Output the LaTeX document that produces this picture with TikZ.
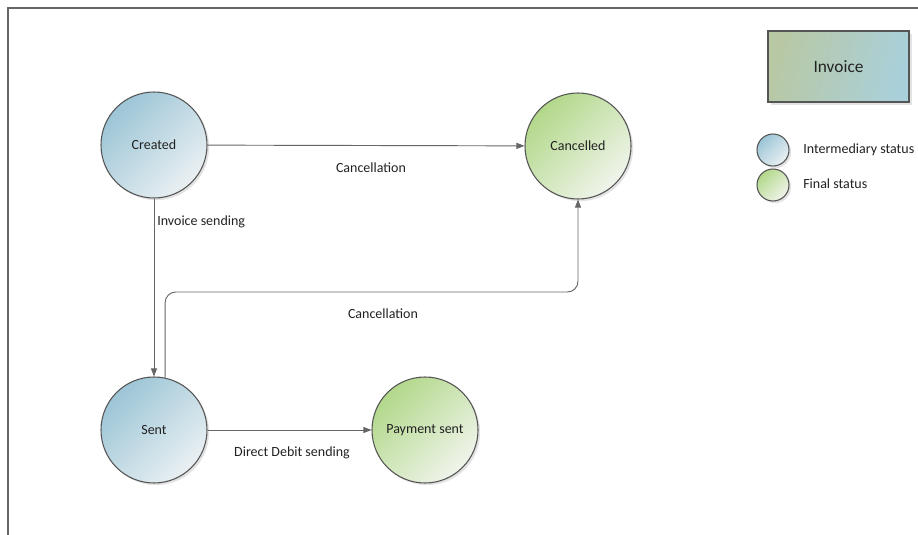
\documentclass[tikz,border=0pt]{standalone}
\usepackage{fontspec}
\setmainfont{Carlito}
\usetikzlibrary{arrows.meta,shadows,calc}
\definecolor{blueDark}{HTML}{9CC5D6}
\definecolor{blueLight}{HTML}{EAF0F3}
\definecolor{greenDark}{HTML}{B2D88A}
\definecolor{greenLight}{HTML}{F0F4EB}
\definecolor{boxA}{HTML}{B8C8A4}
\definecolor{boxB}{HTML}{A9D0DA}
\definecolor{edge}{HTML}{555555}
\definecolor{txt}{HTML}{222222}
\tikzset{
  state/.style={circle, draw=edge, line width=0.8pt, minimum size=79.5pt, inner sep=0pt,
    font=\fontsize{10.5}{12}\selectfont, text=txt,
    drop shadow={opacity=0.22, shadow xshift=1.6pt, shadow yshift=-1.6pt}},
  inter/.style={state, top color=blueDark, middle color=blueDark!80!blueLight,
    bottom color=blueLight, shading angle=45},
  final/.style={state, top color=greenDark, middle color=greenDark!80!greenLight,
    bottom color=greenLight, shading angle=45},
  legi/.style={inter, minimum size=24pt},
  legf/.style={final, minimum size=24pt},
  arr/.style={draw=edge!90, line width=0.7pt, -{Triangle[length=6pt,width=4.5pt]}},
  lbl/.style={font=\fontsize{10.5}{12}\selectfont, text=txt, inner sep=0pt},
}
\begin{document}
\begin{tikzpicture}[x=0.75pt,y=-0.75pt]
\useasboundingbox (0,0) rectangle (918,535);
\fill[white] (0,0) rectangle (918,535);
% frame
\draw[color=edge!90, line width=1.3pt] (8,535) -- (8,8) -- (918,8);
% states
\node[inter] (created) at (154,145) {Created};
\node[final] (cancelled) at (578,146) {Cancelled};
\node[inter] (sent) at (154,430) {Sent};
\node[final] (paid) at (425,430) {Payment sent};
% connectors
\draw[arr] (created) -- (cancelled);
\node[lbl] (l1) at (371,168) {Cancellation};
\draw[arr] (created) -- (sent);
\node[lbl, anchor=west] (l2) at (157,222) {Invoice sending};
\coordinate (mid) at (380,292);
\draw[arr, rounded corners=8pt] (sent.78) |- (mid) -| (cancelled.south);
\node[lbl] (l3) at (383,314) {Cancellation};
\draw[arr] (sent) -- (paid);
\node[lbl] (l4) at (292,453) {Direct Debit sending};
% legend
\node[draw=edge, line width=1pt, minimum width=105.75pt, minimum height=53.25pt,
  left color=boxA, right color=boxB, shading angle=75,
  drop shadow={opacity=0.22, shadow xshift=2pt, shadow yshift=-2pt},
  font=\fontsize{13}{15}\selectfont, text=txt] (invoice) at (838.5,66.5) {Invoice};
\node[legi] (legic) at (773,150) {};
\node[legf] (legfc) at (773,185) {};
\node[lbl, anchor=west] (legit) at (803,150) {Intermediary status};
\node[lbl, anchor=west] (legft) at (803,184) {Final status};
\end{tikzpicture}
\end{document}
